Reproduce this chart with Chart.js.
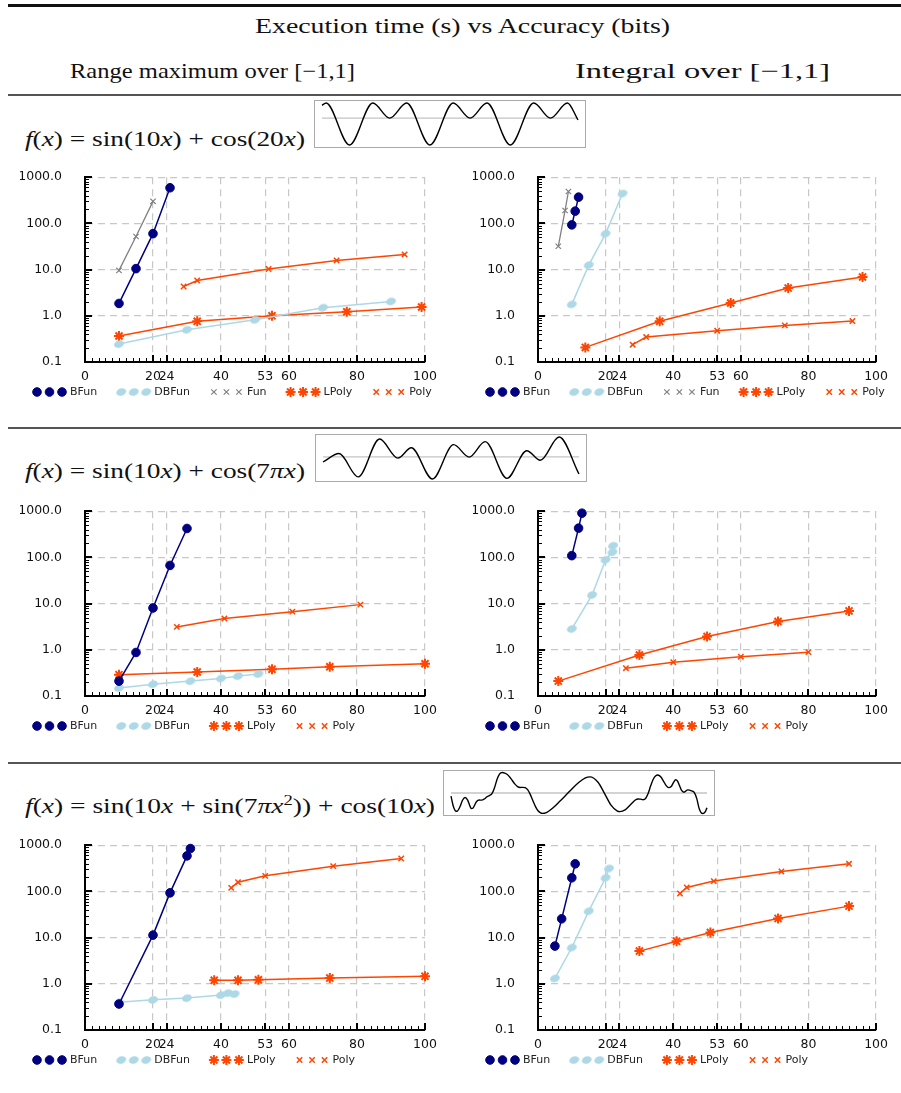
<!DOCTYPE html>
<html>
<head>
<meta charset="utf-8">
<script src="https://cdn.jsdelivr.net/npm/chart.js"></script>
<style>
  body { margin: 0; background: #fff; width: 901px; height: 1093px; overflow: hidden; position: relative; }
  .rule { position: absolute; left: 8px; right: 0; height: 1.5px; background: #555; }
  .fit { position: absolute; white-space: nowrap; line-height: 1; color: #111;
         font-family: "Liberation Serif", serif; transform-origin: 0 0; }
  .fit sup { font-size: 0.68em; line-height: 0; vertical-align: 0.55em; }
  .box { position: absolute; border: 1px solid #aaa; box-sizing: border-box; }
  .box canvas { position: absolute; left: 0; top: 0; }
  canvas.plot { position: absolute; }
</style>
</head>
<body>
<div class="rule" style="top:4px;height:2.5px;background:#111"></div>
<div class="fit" data-w="415" style="left:255px;top:16px;font-size:21px">Execution time (s) vs Accuracy (bits)</div>
<div class="fit" data-w="285" style="left:70px;top:61px;font-size:21px">Range maximum over [−1,1]</div>
<div class="fit" data-w="255" style="left:575px;top:61px;font-size:21px">Integral over [−1,1]</div>
<div class="rule" style="top:94px"></div>

<div class="fit" data-w="280" style="left:25px;top:128px;font-size:22px"><i>f</i>(<i>x</i>) = sin(10<i>x</i>) + cos(20<i>x</i>)</div>
<div class="box" style="left:314px;top:100px;width:272px;height:48px"><canvas id="spark1" width="270" height="46"></canvas></div>
<canvas class="plot" id="maxRow1" width="430" height="258" style="left:20px;top:147px"></canvas>
<canvas class="plot" id="intRow1" width="423" height="258" style="left:473px;top:147px"></canvas>

<div class="rule" style="top:427px"></div>
<div class="fit" data-w="280" style="left:25px;top:460px;font-size:22px"><i>f</i>(<i>x</i>) = sin(10<i>x</i>) + cos(7<i>πx</i>)</div>
<div class="box" style="left:315px;top:434px;width:272px;height:48px"><canvas id="spark2" width="270" height="46"></canvas></div>
<canvas class="plot" id="maxRow2" width="430" height="258" style="left:20px;top:481px"></canvas>
<canvas class="plot" id="intRow2" width="423" height="258" style="left:473px;top:481px"></canvas>

<div class="rule" style="top:762px"></div>
<div class="fit" data-w="410" style="left:25px;top:795px;font-size:22px"><i>f</i>(<i>x</i>) = sin(10<i>x</i> + sin(7<i>πx</i><sup>2</sup>)) + cos(10<i>x</i>)</div>
<div class="box" style="left:443px;top:770px;width:272px;height:46px"><canvas id="spark3" width="270" height="44"></canvas></div>
<canvas class="plot" id="maxRow3" width="430" height="258" style="left:20px;top:815px"></canvas>
<canvas class="plot" id="intRow3" width="423" height="258" style="left:473px;top:815px"></canvas>

<script>
// axis ticks
const xTicks = [0, 20, 24, 40, 53, 60, 80, 100];
const yTicks = [0.1, 1, 10, 100, 1000];

// row 1 : sin(10x) + cos(20x), range maximum  (bits -> seconds)
const max1BFunBits = [10, 15, 20, 25];
const max1BFunTime = [1.85, 10.5, 60, 590];
const max1DBFunBits = [10, 30, 50, 70, 90];
const max1DBFunTime = [0.245, 0.50, 0.82, 1.5, 2.05];
const max1FunBits = [10, 15, 20];
const max1FunTime = [9.6, 52, 300];
const max1LPolyBits = [10, 33, 55, 77, 99];
const max1LPolyTime = [0.365, 0.76, 1.0, 1.22, 1.55];
const max1PolyBits = [29, 33, 54, 74, 94];
const max1PolyTime = [4.3, 5.8, 10.3, 15.8, 21.3];

// row 1 : integral
const int1BFunBits = [10, 11, 12];
const int1BFunTime = [93, 184, 370];
const int1DBFunBits = [10, 15, 20, 25];
const int1DBFunTime = [1.77, 12.5, 60, 443];
const int1FunBits = [6, 8, 9];
const int1FunTime = [32, 190, 490];
const int1LPolyBits = [14, 36, 57, 74, 96];
const int1LPolyTime = [0.207, 0.76, 1.89, 3.98, 6.9];
const int1PolyBits = [28, 32, 53, 73, 93];
const int1PolyTime = [0.237, 0.347, 0.476, 0.62, 0.77];

// row 2 : sin(10x) + cos(7πx), range maximum
const max2BFunBits = [10, 15, 20, 25, 30];
const max2BFunTime = [0.21, 0.875, 8.05, 67, 423];
const max2DBFunBits = [10, 20, 31, 40, 45, 51];
const max2DBFunTime = [0.149, 0.18, 0.21, 0.24, 0.27, 0.30];
const max2LPolyBits = [10, 33, 55, 72, 100];
const max2LPolyTime = [0.29, 0.33, 0.38, 0.43, 0.50];
const max2PolyBits = [27, 41, 61, 81];
const max2PolyTime = [3.13, 4.74, 6.7, 9.5];

// row 2 : integral
const int2BFunBits = [10, 12, 13];
const int2BFunTime = [109, 430, 905];
const int2DBFunBits = [10, 16, 20, 22, 22.2];
const int2DBFunTime = [2.84, 15.4, 89, 130, 179];
const int2LPolyBits = [6, 30, 50, 71, 92];
const int2LPolyTime = [0.21, 0.77, 1.94, 4.1, 6.95];
const int2PolyBits = [26, 40, 60, 80];
const int2PolyTime = [0.40, 0.54, 0.71, 0.89];

// row 3 : sin(10x + sin(7πx²)) + cos(10x), range maximum
const max3BFunBits = [10, 20, 25, 30, 31];
const max3BFunTime = [0.365, 11.3, 93, 588, 847];
const max3DBFunBits = [10, 20, 30, 40, 42, 44];
const max3DBFunTime = [0.40, 0.45, 0.49, 0.57, 0.63, 0.60];
const max3LPolyBits = [38, 45, 51, 72, 100];
const max3LPolyTime = [1.19, 1.19, 1.22, 1.33, 1.45];
const max3PolyBits = [43, 45, 53, 73, 93];
const max3PolyTime = [119, 158, 217, 352, 515];

// row 3 : integral
const int3BFunBits = [5, 7, 10, 11];
const int3BFunTime = [6.55, 25.5, 197, 395];
const int3DBFunBits = [5, 10, 15, 20, 21];
const int3DBFunTime = [1.31, 6.1, 37.4, 197, 313];
const int3LPolyBits = [30, 41, 51, 71, 92];
const int3LPolyTime = [5.1, 8.3, 12.9, 26, 48];
const int3PolyBits = [42, 44, 52, 72, 92];
const int3PolyTime = [90, 122, 167, 270, 395];

// little function plots over [-1, 1]
const fn1X = [-1, -0.968, -0.785, -0.603, -0.471, -0.339, -0.157, 0.025, 0.157, 0.289, 0.471, 0.654, 0.785, 0.917, 1];
const fn1Y = [0.95, 1.125, -2, 1.125, 0, 1.125, -2, 1.125, 0, 1.125, -2, 1.125, 0, 1.125, -0.14];
const fn2X = [-1, -0.875, -0.725, -0.558, -0.415, -0.31, -0.145, 0.02, 0.142, 0.267, 0.437, 0.592, 0.698, 0.845, 1];
const fn2Y = [-0.46, 0.30, -1.80, 1.61, -0.11, 0.82, -1.99, 1.10, -0.02, 1.37, -1.93, 0.55, -0.30, 1.79, -1.54];
const fn3X = [-1, -0.98, -0.96, -0.95, -0.93, -0.91, -0.89, -0.87, -0.85, -0.84, -0.83, -0.8, -0.78, -0.76, -0.74,
  -0.72, -0.7, -0.68, -0.66, -0.64, -0.62, -0.6, -0.58, -0.56, -0.54, -0.52, -0.5, -0.48, -0.46, -0.44, -0.42,
  -0.4, -0.38, -0.36, -0.34, -0.32, -0.3, -0.285, -0.26, -0.24, -0.2, -0.15, -0.1, -0.05, 0, 0.05, 0.085, 0.15,
  0.2, 0.25, 0.3, 0.32, 0.36, 0.4, 0.44, 0.46, 0.48, 0.5, 0.52, 0.54, 0.56, 0.58, 0.6, 0.615, 0.64, 0.66, 0.68,
  0.7, 0.72, 0.74, 0.755, 0.77, 0.78, 0.8, 0.82, 0.85, 0.88, 0.9, 0.92, 0.94, 0.965, 0.98, 0.99, 1];
const fn3Y = [-0.30, -1.31, -1.71, -1.69, -1.29, -0.68, -0.42, -0.67, -1.28, -1.46, -1.43, -0.80, -0.66, -0.67, -0.56,
  -0.36, -0.24, -0.06, 0.50, 1.28, 1.79, 1.92, 1.87, 1.73, 1.48, 1.15, 0.83, 0.60, 0.52, 0.53, 0.50,
  0.29, -0.15, -0.73, -1.27, -1.66, -1.86, -1.91, -1.86, -1.73, -1.36, -0.78, -0.17, 0.45, 1.0, 1.41, 1.51, 0.99,
  -0.05, -1.13, -1.69, -1.74, -1.58, -1.12, -0.66, -0.56, -0.57, -0.63, -0.52, -0.05, 0.67, 1.29, 1.62, 1.68, 1.49, 1.11, 0.71,
  0.50, 0.61, 1.02, 1.24, 1.11, 0.84, 0.27, 0.07, 0.29, 0.19, 0.05, -0.53, -1.50, -1.92, -1.84, -1.67, -1.38];

// marker for DBFun: a small tilted ellipse
const ellipse = document.createElement('canvas');
ellipse.width = 12; ellipse.height = 10;
(function() {
  const c = ellipse.getContext('2d');
  c.fillStyle = '#add8e6';
  c.beginPath();
  c.ellipse(6, 5, 5, 3.6, -0.35, 0, Math.PI * 2);
  c.fill();
})();

const STYLE = {
  BFun:  { color: '#000080', point: 'circle',   radius: 4.3, pw: 1,   line: 1.5 },
  DBFun: { color: '#add8e6', point: ellipse,    radius: 5,   pw: 0,   line: 1.5 },
  Fun:   { color: '#808080', point: 'crossRot', radius: 3.8, pw: 1.2, line: 1.3 },
  LPoly: { color: '#ff4500', point: 'star',     radius: 5,   pw: 2,   line: 1.5 },
  Poly:  { color: '#ff4500', point: 'crossRot', radius: 3.8, pw: 1.5, line: 1.5 }
};

// tick marks along the axes (inside), from the chart's own scales
const axisDecor = {
  id: 'axisDecor',
  beforeDatasetsDraw(chart) {
    const { ctx, chartArea: a, scales: { x, y } } = chart;
    ctx.save();
    ctx.strokeStyle = '#000';
    ctx.lineWidth = 1;
    for (let d = 0.1; d < 500; d *= 10) {
      for (let k = 2; k <= 9; k++) {
        const py = Math.round(y.getPixelForValue(k * d)) + 0.5;
        ctx.beginPath(); ctx.moveTo(a.left, py); ctx.lineTo(a.left + 4, py); ctx.stroke();
      }
    }
    for (let v = 2; v < 100; v += 2) {
      if (xTicks.includes(v)) continue;
      const px = Math.round(x.getPixelForValue(v)) + 0.5;
      ctx.beginPath(); ctx.moveTo(px, a.bottom); ctx.lineTo(px, a.bottom - 4); ctx.stroke();
    }
    ctx.lineWidth = 2;
    yTicks.slice(1).forEach(v => {
      const py = Math.round(y.getPixelForValue(v));
      ctx.beginPath(); ctx.moveTo(a.left, py); ctx.lineTo(a.left + 7, py); ctx.stroke();
    });
    xTicks.slice(1).forEach(v => {
      const px = Math.round(x.getPixelForValue(v));
      ctx.beginPath(); ctx.moveTo(px, a.bottom); ctx.lineTo(px, a.bottom - 7); ctx.stroke();
    });
    ctx.restore();
  }
};

// legend: three markers then the name
const seriesLegend = {
  id: 'seriesLegend',
  afterDraw(chart) {
    const { ctx, chartArea: a } = chart;
    let x = a.left - 48;
    const y = Math.round(a.bottom) + 30;
    ctx.save();
    ctx.font = '11px "DejaVu Sans"';
    ctx.textBaseline = 'middle';
    chart.data.datasets.forEach(ds => {
      for (let k = 0; k < 3; k++) {
        ctx.fillStyle = ds.pointBackgroundColor;
        ctx.strokeStyle = ds.pointBorderColor;
        ctx.lineWidth = ds.pointBorderWidth;
        Chart.helpers.drawPoint(ctx, { pointStyle: ds.pointStyle, radius: ds.pointRadius,
          rotation: 0, borderWidth: ds.pointBorderWidth }, x + k * 12.5, y);
      }
      ctx.fillStyle = '#222';
      ctx.fillText(ds.label, x + 33, y);
      x += 33 + ctx.measureText(ds.label).width + 24;
    });
    ctx.restore();
  }
};

function series(name, bits, time) {
  return { name, bits, time };
}

function perfChart(id, list, rightPad) {
  const datasets = list.map(s => {
    const st = STYLE[s.name];
    return {
      label: s.name,
      data: s.bits.map((b, i) => ({ x: b, y: s.time[i] })),
      borderColor: st.color, backgroundColor: st.color, borderWidth: st.line,
      pointStyle: st.point, pointRadius: st.radius, pointBorderWidth: st.pw,
      pointBackgroundColor: st.color, pointBorderColor: st.color,
      tension: 0, clip: 10
    };
  });
  const tickFont = { family: 'DejaVu Sans', size: 12.5, lineHeight: 1.15 };
  new Chart(document.getElementById(id), {
    type: 'line',
    data: { datasets },
    options: {
      responsive: false, animation: false, devicePixelRatio: 1,
      // the y tick padding also pads the top of the plot (about 30px)
      layout: { padding: { left: 0, top: 0, right: rightPad, bottom: 19 } },
      plugins: { legend: { display: false }, tooltip: { enabled: false } },
      scales: {
        x: {
          type: 'linear', min: 0, max: 100,
          afterBuildTicks: s => { s.ticks = xTicks.map(v => ({ value: v })); },
          afterFit: s => { s.height = 24; },
          ticks: { autoSkip: false, maxRotation: 0, padding: 8, color: '#111', font: tickFont,
                   callback: v => String(v) },
          grid: { drawTicks: false, lineWidth: 1.2,
                  color: c => (c.tick && c.tick.value === 0) ? 'rgba(0,0,0,0)' : '#c8c8c8' },
          border: { color: '#000', width: 2, dash: [7, 5] }
        },
        y: {
          type: 'logarithmic', min: 0.1, max: 1000,
          afterBuildTicks: s => { s.ticks = yTicks.map(v => ({ value: v })); },
          afterFit: s => { s.width = 65; },
          ticks: { padding: 23, color: '#111', font: tickFont, callback: v => Number(v).toFixed(1) },
          grid: { drawTicks: false, lineWidth: 1.2,
                  color: c => (c.tick && c.tick.value < 0.5) ? 'rgba(0,0,0,0)' : '#c8c8c8' },
          border: { color: '#000', width: 2, dash: [7, 5] }
        }
      }
    },
    plugins: [axisDecor, seriesLegend]
  });
}

function sparkline(id, xs, ys, padY) {
  const lo = Math.min(...ys), hi = Math.max(...ys);
  new Chart(document.getElementById(id), {
    type: 'line',
    data: {
      datasets: [
        { data: xs.map((x, i) => ({ x, y: ys[i] })), borderColor: '#000', borderWidth: 1.4,
          pointRadius: 0, cubicInterpolationMode: 'monotone', clip: 3 },
        { data: [{ x: -1, y: 0 }, { x: 1, y: 0 }], borderColor: '#c4c4c4', borderWidth: 1.4, pointRadius: 0 }
      ]
    },
    options: {
      responsive: false, animation: false, devicePixelRatio: 1,
      layout: { padding: { left: 7, right: 7, top: padY, bottom: padY } },
      plugins: { legend: { display: false }, tooltip: { enabled: false } },
      scales: {
        x: { type: 'linear', min: -1, max: 1, display: false },
        y: { type: 'linear', min: lo, max: hi, display: false }
      }
    }
  });
}

perfChart('maxRow1', [
  series('BFun', max1BFunBits, max1BFunTime),
  series('DBFun', max1DBFunBits, max1DBFunTime),
  series('Fun', max1FunBits, max1FunTime),
  series('LPoly', max1LPolyBits, max1LPolyTime),
  series('Poly', max1PolyBits, max1PolyTime)
], 25);
perfChart('intRow1', [
  series('BFun', int1BFunBits, int1BFunTime),
  series('DBFun', int1DBFunBits, int1DBFunTime),
  series('Fun', int1FunBits, int1FunTime),
  series('LPoly', int1LPolyBits, int1LPolyTime),
  series('Poly', int1PolyBits, int1PolyTime)
], 18);
perfChart('maxRow2', [
  series('BFun', max2BFunBits, max2BFunTime),
  series('DBFun', max2DBFunBits, max2DBFunTime),
  series('LPoly', max2LPolyBits, max2LPolyTime),
  series('Poly', max2PolyBits, max2PolyTime)
], 25);
perfChart('intRow2', [
  series('BFun', int2BFunBits, int2BFunTime),
  series('DBFun', int2DBFunBits, int2DBFunTime),
  series('LPoly', int2LPolyBits, int2LPolyTime),
  series('Poly', int2PolyBits, int2PolyTime)
], 18);
perfChart('maxRow3', [
  series('BFun', max3BFunBits, max3BFunTime),
  series('DBFun', max3DBFunBits, max3DBFunTime),
  series('LPoly', max3LPolyBits, max3LPolyTime),
  series('Poly', max3PolyBits, max3PolyTime)
], 25);
perfChart('intRow3', [
  series('BFun', int3BFunBits, int3BFunTime),
  series('DBFun', int3DBFunBits, int3DBFunTime),
  series('LPoly', int3LPolyBits, int3LPolyTime),
  series('Poly', int3PolyBits, int3PolyTime)
], 18);

sparkline('spark1', fn1X, fn1Y, 2);
sparkline('spark2', fn2X, fn2Y, 2);
sparkline('spark3', fn3X, fn3Y, 1.5);

// stretch the serif labels to the widths they have in the figure
document.querySelectorAll('.fit').forEach(el => {
  const w = el.getBoundingClientRect().width;
  el.style.transform = 'scaleX(' + (el.dataset.w / w) + ')';
});
</script>
</body>
</html>
